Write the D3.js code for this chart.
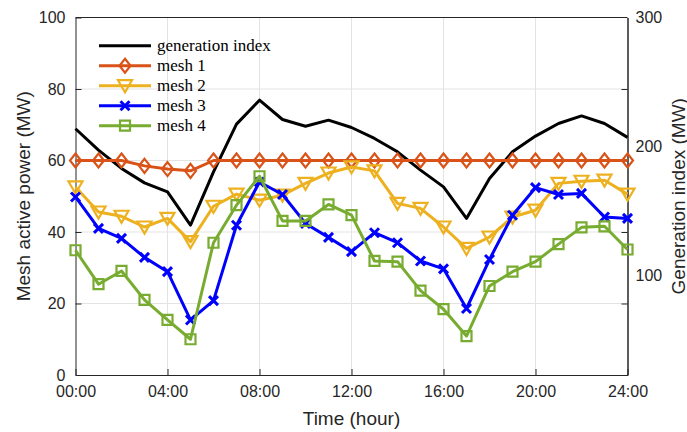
<!DOCTYPE html>
<html>
<head>
<meta charset="utf-8">
<script src="https://cdn.jsdelivr.net/npm/d3@7"></script>
<style>
  body { margin: 0; background: #fff; }
  svg { display: block; }
</style>
</head>
<body>
<div id="chart"></div>
<script>
// hourly values
var hours = [0, 1, 2, 3, 4, 5, 6, 7, 8, 9, 10, 11, 12, 13, 14, 15, 16, 17, 18, 19, 20, 21, 22, 23, 24];
var hourTicks = [0, 4, 8, 12, 16, 20, 24];
var leftTicks = [0, 20, 40, 60, 80, 100];
var rightTicks = [100, 200, 300];

var mesh1 = [60, 60, 60, 58.5, 57.6, 57.1, 60, 60, 60, 60, 60, 60, 60, 60, 60, 60, 60, 60, 60, 60, 60, 60, 60, 60, 60];
var mesh2 = [52.6, 45.6, 44.4, 41.4, 43.8, 37.3, 47.2, 50.6, 48.9, 50.3, 53.6, 56.5, 58.2, 57.1, 48.0, 46.6, 41.4, 35.4, 38.6, 44.2, 46.1, 53.6, 54.2, 54.5, 50.6];
var mesh3 = [49.8, 41.0, 38.2, 32.9, 28.9, 15.4, 20.8, 41.9, 54.0, 50.5, 42.4, 38.5, 34.5, 39.8, 37.0, 31.9, 29.7, 18.6, 32.3, 44.7, 52.4, 50.5, 50.8, 44.2, 43.8];
var mesh4 = [34.9, 25.4, 29.1, 21.0, 15.4, 10.0, 37.0, 47.5, 55.6, 43.1, 43.1, 47.7, 44.7, 31.9, 31.7, 23.6, 18.4, 10.9, 24.9, 28.9, 31.7, 36.6, 41.3, 41.6, 35.1];
var genIndex = [213.6, 197.0, 182.8, 171.6, 164.6, 138.8, 180.2, 217.2, 235.8, 220.8, 215.6, 220.3, 214.6, 206.1, 195.7, 181.5, 168.5, 144.0, 175.0, 195.7, 207.9, 217.7, 223.6, 217.7, 206.9];

var legendNames = ["generation index", "mesh 1", "mesh 2", "mesh 3", "mesh 4"];

var svgWidth = 687;
var svgHeight = 432;
var margin = { top: 17.5, right: 59.5, bottom: 57, left: 75.5 };
var width = svgWidth - margin.left - margin.right;
var height = svgHeight - margin.top - margin.bottom;

var svg = d3.select("#chart").append("svg")
  .attr("width", svgWidth)
  .attr("height", svgHeight);

var g = svg.append("g")
  .attr("transform", `translate(${margin.left}, ${margin.top})`);

var x = d3.scaleLinear().domain([0, 24]).range([0, width]);
var yLeft = d3.scaleLinear().domain([0, 100]).range([height, 0]);
var yRight = d3.scaleLinear().domain([22.4, 300]).range([height, 0]);

var sansFont = "'Liberation Sans', Arial, sans-serif";
var serifFont = "'Liberation Serif', 'Times New Roman', serif";

// grid
g.append("g").selectAll("line")
  .data(hourTicks.slice(1, -1))
  .enter().append("line")
  .attr("x1", d => x(d)).attr("x2", d => x(d))
  .attr("y1", 0).attr("y2", height)
  .attr("stroke", "#e3e3e3").attr("stroke-width", 1);

g.append("g").selectAll("line")
  .data(leftTicks.slice(1, -1))
  .enter().append("line")
  .attr("x1", 0).attr("x2", width)
  .attr("y1", d => yLeft(d)).attr("y2", d => yLeft(d))
  .attr("stroke", "#e3e3e3").attr("stroke-width", 1);

// axes
var xAxis = d3.axisBottom(x).tickValues(hourTicks).tickSizeInner(-6).tickSizeOuter(0).tickPadding(11)
  .tickFormat(d => String(d).padStart(2, "0") + ":00");
var leftAxis = d3.axisLeft(yLeft).tickValues(leftTicks).tickSizeInner(-6).tickSizeOuter(0).tickPadding(10);
var rightAxis = d3.axisRight(yRight).tickValues(rightTicks).tickSize(0).tickPadding(8);
var rightMarks = d3.axisLeft(yLeft).tickValues(leftTicks.slice(1, -1)).tickSizeInner(6).tickSizeOuter(0).tickFormat("");

function styleAxis(sel) {
  sel.selectAll("path, line").attr("stroke", "#262626").attr("stroke-width", 1);
  sel.selectAll("text").attr("fill", "#262626").attr("font-size", "16px").attr("font-family", sansFont);
}

g.append("g").attr("transform", `translate(0, ${height})`).call(xAxis).call(styleAxis);
g.append("g").call(leftAxis).call(styleAxis);
g.append("g").attr("transform", `translate(${width}, 0)`).call(rightAxis).call(styleAxis);
g.append("g").attr("transform", `translate(${width}, 0)`).call(rightMarks).call(styleAxis);

// top border
g.append("line")
  .attr("x1", 0).attr("x2", width).attr("y1", 0).attr("y2", 0)
  .attr("stroke", "#262626").attr("stroke-width", 1);

// axis titles
g.append("text")
  .attr("x", width / 2).attr("y", height + 50)
  .attr("text-anchor", "middle")
  .attr("font-family", sansFont).attr("font-size", "19px").attr("fill", "#262626")
  .text("Time (hour)");

g.append("text")
  .attr("transform", `translate(${-46}, ${height / 2}) rotate(-90)`)
  .attr("text-anchor", "middle")
  .attr("font-family", sansFont).attr("font-size", "19px").attr("fill", "#262626")
  .text("Mesh active power (MW)");

g.append("text")
  .attr("transform", `translate(${width + 57}, ${height / 2}) rotate(-90)`)
  .attr("text-anchor", "middle")
  .attr("font-family", sansFont).attr("font-size", "19px").attr("fill", "#262626")
  .text("Generation index (MW)");

// markers
function diamond(s) { return `M0,${-7 * s}L${5.5 * s},0L0,${7 * s}L${-5.5 * s},0Z`; }
function triDown(s) { return `M${-7 * s},${-5.5 * s}L${7 * s},${-5.5 * s}L0,${6.5 * s}Z`; }
function square(s) { return `M${-5 * s},${-5 * s}H${5 * s}V${5 * s}H${-5 * s}Z`; }
function cross(s) { return `M${-4.5 * s},${-4.5 * s}L${4.5 * s},${4.5 * s}M${-4.5 * s},${4.5 * s}L${4.5 * s},${-4.5 * s}`; }

var series = [
  { name: legendNames[0], values: genIndex, scale: yRight, color: "#000000", marker: null, width: 3 },
  { name: legendNames[1], values: mesh1, scale: yLeft, color: "#D95319", marker: diamond, width: 3 },
  { name: legendNames[2], values: mesh2, scale: yLeft, color: "#EDB120", marker: triDown, width: 3 },
  { name: legendNames[3], values: mesh3, scale: yLeft, color: "#0000FF", marker: cross, width: 3 },
  { name: legendNames[4], values: mesh4, scale: yLeft, color: "#77AC30", marker: square, width: 3 }
];

series.forEach(function(s) {
  var line = d3.line()
    .x((d, i) => x(hours[i]))
    .y(d => s.scale(d));

  g.append("path")
    .datum(s.values)
    .attr("d", line)
    .attr("fill", "none")
    .attr("stroke", s.color)
    .attr("stroke-width", s.width)
    .attr("stroke-linejoin", "round");

  if (s.marker) {
    g.append("g").selectAll("path")
      .data(s.values)
      .enter().append("path")
      .attr("transform", (d, i) => `translate(${x(hours[i])}, ${s.scale(d)})`)
      .attr("d", s.marker(1))
      .attr("fill", "none")
      .attr("stroke", s.color)
      .attr("stroke-width", s.marker === cross ? 3 : 2.2);
  }
});

// legend
var legend = svg.append("g").attr("transform", "translate(99, 45.7)");
series.forEach(function(s, i) {
  var row = legend.append("g").attr("transform", `translate(0, ${i * 20})`);
  row.append("line")
    .attr("x1", 0).attr("x2", 52).attr("y1", 0).attr("y2", 0)
    .attr("stroke", s.color).attr("stroke-width", s.width);
  if (s.marker) {
    row.append("path")
      .attr("transform", "translate(26, 0)")
      .attr("d", s.marker(1))
      .attr("fill", "none")
      .attr("stroke", s.color)
      .attr("stroke-width", s.marker === cross ? 3 : 2.2);
  }
  row.append("text")
    .attr("x", 58).attr("y", 0).attr("dy", "0.33em")
    .attr("font-family", serifFont).attr("font-size", "17px").attr("fill", "#000")
    .text(s.name);
});
</script>
</body>
</html>
